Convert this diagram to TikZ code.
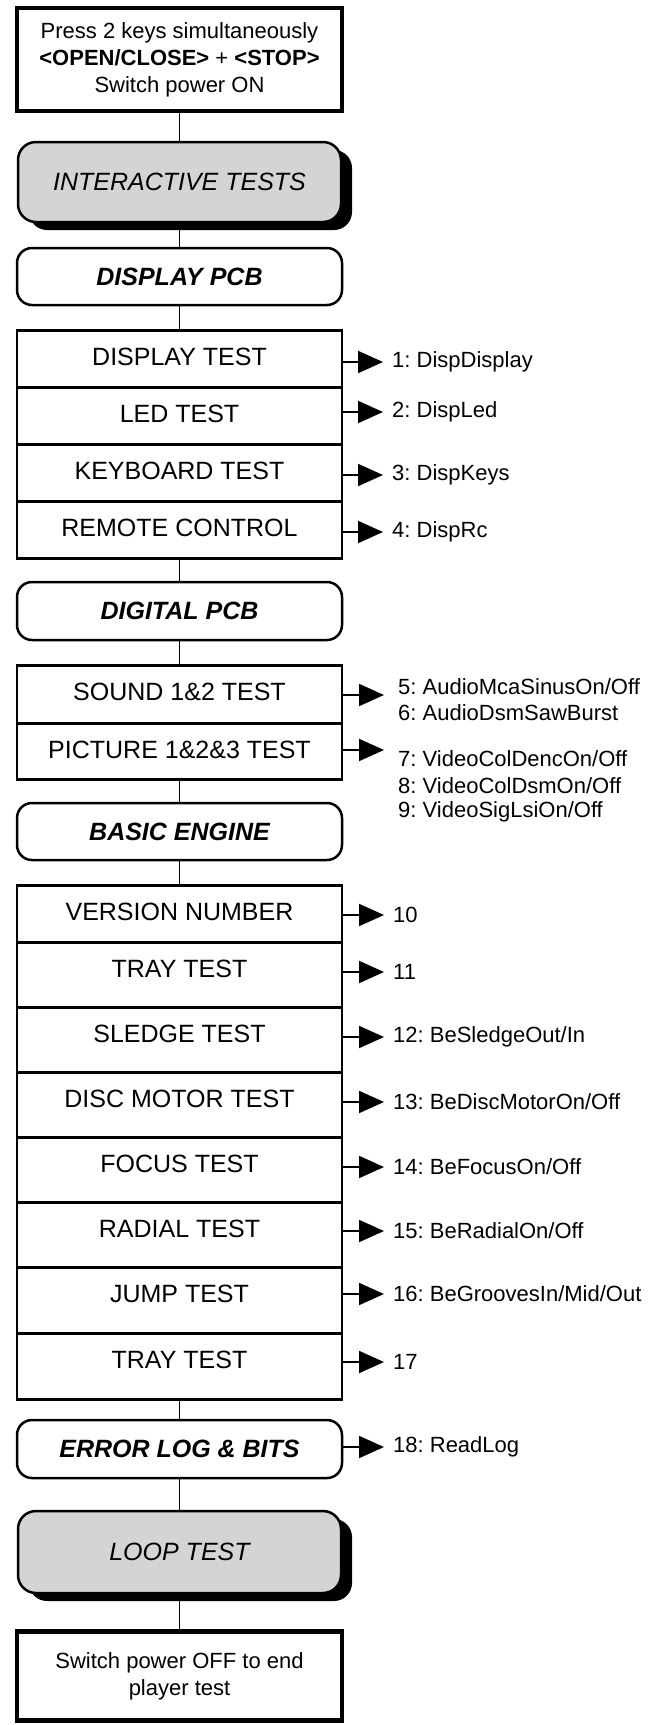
\documentclass[tikz,border=0pt]{standalone}
\usepackage{fontspec}
\setmainfont{Liberation Sans}
\usetikzlibrary{arrows.meta,shadows}
\tikzset{
  box/.style={draw, line width=2.5pt, minimum width=325pt, inner sep=0pt, font=\fontsize{25}{30}\selectfont},
  rowbox/.style={box, anchor=north, text height=35pt},
  stage/.style={box, rounded corners=15pt, font=\fontsize{25}{30}\selectfont\bfseries\itshape},
  shaded/.style={box, minimum width=323pt, rounded corners=18pt, fill=black!17, font=\fontsize{25}{30}\selectfont\itshape,
    drop shadow={shadow xshift=11pt, shadow yshift=-8pt, fill=black, opacity=1}},
  note/.style={draw, line width=4pt, minimum width=325pt, align=center, font=\fontsize{22}{27}\selectfont},
  lbl/.style={anchor=west, inner sep=0pt, font=\fontsize{22}{26}\selectfont\frenchspacing},
  link/.style={line width=1.8pt},
  arr/.style={line width=2pt, -{Triangle[length=25pt,width=22pt]}, shorten >=9pt},
}
\begin{document}
\begin{tikzpicture}[x=1pt, y=-1pt]
\useasboundingbox (0,0) rectangle (661,1725);

\node[note, minimum height=103pt] (start) at (179.5,59.5) {Press 2 keys simultaneously\\ \textbf{<OPEN/CLOSE>} + \textbf{<STOP>}\\ Switch power ON};
\node[shaded, minimum height=80pt] (inter) at (179.5,182) {INTERACTIVE TESTS};
\node[stage, minimum height=57pt] (dpcb) at (179.5,276.5) {DISPLAY PCB};

\node[rowbox, text depth=22pt] (d1) at (179.5,329) {DISPLAY TEST};
\node[rowbox, text depth=22pt] (d2) at (179.5,386) {LED TEST};
\node[rowbox, text depth=22pt] (d3) at (179.5,443) {KEYBOARD TEST};
\node[rowbox, text depth=22pt] (d4) at (179.5,500) {REMOTE CONTROL};

\node[stage, minimum height=58pt] (gpcb) at (179.5,611) {DIGITAL PCB};
\node[rowbox, text depth=23pt] (s1) at (179.5,664) {SOUND 1\&2 TEST};
\node[rowbox, text depth=21pt] (s2) at (179.5,722) {PICTURE 1\&2\&3 TEST};

\node[stage, minimum height=57pt] (beng) at (179.5,831.5) {BASIC ENGINE};
\node[rowbox, text depth=22pt] (b1) at (179.5,884) {VERSION NUMBER};
\node[rowbox, text depth=30pt] (b2) at (179.5,941) {TRAY TEST};
\node[rowbox, text depth=30pt] (b3) at (179.5,1006) {SLEDGE TEST};
\node[rowbox, text depth=30pt] (b4) at (179.5,1071) {DISC MOTOR TEST};
\node[rowbox, text depth=30pt] (b5) at (179.5,1136) {FOCUS TEST};
\node[rowbox, text depth=30pt] (b6) at (179.5,1201) {RADIAL TEST};
\node[rowbox, text depth=31pt] (b7) at (179.5,1266) {JUMP TEST};
\node[rowbox, text depth=31pt] (b8) at (179.5,1332) {TRAY TEST};

\node[stage, minimum height=58pt] (elog) at (179.5,1449) {ERROR LOG \& BITS};
\node[shaded, minimum height=82pt] (loop) at (179.5,1552) {LOOP TEST};
\node[note, minimum height=89pt, line width=4.5pt] (finish) at (179.5,1676) {Switch power OFF to end\\player test};

\draw[link] (start.south) -- (inter.north);
\draw[link] (inter.south) -- (dpcb.north);
\draw[link] (dpcb.south) -- (d1.north);
\draw[link] (d4.south) -- (gpcb.north);
\draw[link] (gpcb.south) -- (s1.north);
\draw[link] (s2.south) -- (beng.north);
\draw[link] (beng.south) -- (b1.north);
\draw[link] (b8.south) -- (elog.north);
\draw[link] (elog.south) -- (loop.north);
\draw[link] (loop.south) -- (finish.north);

\node[lbl] (l1) at (392,362) {1: DispDisplay};
\node[lbl] (l2) at (392,412) {2: DispLed};
\node[lbl] (l3) at (392,475) {3: DispKeys};
\node[lbl] (l4) at (392,532) {4: DispRc};
\draw[arr] (d1.east |- l1.west) -- (l1.west);
\draw[arr] (d2.east |- l2.west) -- (l2.west);
\draw[arr] (d3.east |- l3.west) -- (l3.west);
\draw[arr] (d4.east |- l4.west) -- (l4.west);

\coordinate (a5) at (384,695);
\coordinate (a7) at (384,750);
\node[lbl] (l5) at (398,687) {5: AudioMcaSinusOn/Off};
\node[lbl] (l6) at (398,713) {6: AudioDsmSawBurst};
\node[lbl] (l7) at (398,759) {7: VideoColDencOn/Off};
\node[lbl] (l8) at (398,786) {8: VideoColDsmOn/Off};
\node[lbl] (l9) at (398,812) {9: VideoSigLsiOn/Off};
\draw[arr, shorten >=0pt] (s1.east |- a5) -- (a5);
\draw[arr, shorten >=0pt] (s2.east |- a7) -- (a7);

\node[lbl] (l10) at (393,915) {10};
\node[lbl] (l11) at (393,972) {11};
\node[lbl] (l12) at (393,1037) {12: BeSledgeOut/In};
\node[lbl] (l13) at (393,1102) {13: BeDiscMotorOn/Off};
\node[lbl] (l14) at (393,1167) {14: BeFocusOn/Off};
\node[lbl] (l15) at (393,1231) {15: BeRadialOn/Off};
\node[lbl] (l16) at (393,1294) {16: BeGroovesIn/Mid/Out};
\node[lbl] (l17) at (393,1362) {17};
\node[lbl] (l18) at (393,1447) {18: ReadLog};
\draw[arr] (b1.east |- l10.west) -- (l10.west);
\draw[arr] (b2.east |- l11.west) -- (l11.west);
\draw[arr] (b3.east |- l12.west) -- (l12.west);
\draw[arr] (b4.east |- l13.west) -- (l13.west);
\draw[arr] (b5.east |- l14.west) -- (l14.west);
\draw[arr] (b6.east |- l15.west) -- (l15.west);
\draw[arr] (b7.east |- l16.west) -- (l16.west);
\draw[arr] (b8.east |- l17.west) -- (l17.west);
\draw[arr] (elog.east |- l18.west) -- (l18.west);
\end{tikzpicture}
\end{document}
